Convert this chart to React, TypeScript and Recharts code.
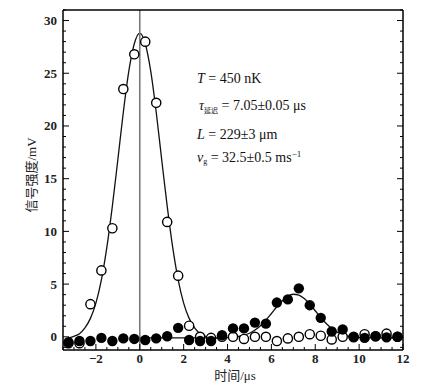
import React from "react";
import { ComposedChart, Line, Scatter, XAxis, YAxis, ReferenceLine } from "recharts";

// measured points, one every 0.5 µs
const sampleTimes = [
  -3.25, -2.75, -2.25, -1.75, -1.25, -0.75, -0.25, 0.25, 0.75, 1.25, 1.75, 2.25, 2.75, 3.25, 3.75,
  4.25, 4.75, 5.25, 5.75, 6.25, 6.75, 7.25, 7.75, 8.25, 8.75, 9.25, 9.75, 10.25, 10.75, 11.25, 11.75,
];
const openSignal = [
  -0.6, -0.6, 3.1, 6.3, 10.3, 23.5, 26.8, 28.0, 22.2, 10.9, 5.8, 1.05, 0.0, -0.1, 0.0,
  0.0, -0.2, 0.0, 0.0, -0.4, -0.15, 0.0, 0.25, 0.1, -0.25, 0.0, 0.0, 0.25, 0.05, 0.3, 0.0,
];
const filledSignal = [
  -0.5, -0.4, -0.4, -0.1, -0.4, -0.15, -0.2, -0.3, -0.15, 0.05, 0.85, -0.3, -0.4, -0.4, 0.15,
  0.8, 0.8, 1.35, 1.25, 3.25, 3.55, 4.6, 3.0, 1.8, 0.5, 0.7, -0.05, -0.1, 0.05, -0.05, 0.0,
];

// fitted curves
const openFitTimes = [
  -3.25, -3, -2.75, -2.5, -2.25, -2, -1.75, -1.5, -1.25, -1, -0.75, -0.5, -0.25, 0,
  0.25, 0.5, 0.75, 1, 1.25, 1.5, 1.75, 2, 2.25, 2.5, 2.75, 3, 3.25, 3.5,
];
const openFitValues = [
  -0.1, 0.05, 0.3, 0.85, 1.75, 3.2, 5.4, 8.5, 12.4, 16.8, 21.3, 25.2, 27.8, 28.8,
  27.8, 25.2, 21.3, 16.8, 12.4, 8.5, 5.4, 3.2, 1.75, 0.85, 0.3, 0.05, -0.1, -0.15,
];
const filledFitTimes = [
  0, 1, 2, 3, 3.5, 3.75, 4, 4.25, 4.5, 4.75, 5, 5.25, 5.5, 5.75, 6, 6.25, 6.5, 6.75, 7,
  7.25, 7.5, 7.75, 8, 8.25, 8.5, 8.75, 9, 9.25, 9.5, 9.75, 10, 10.25, 10.5, 11, 12,
];
const filledFitValues = [
  -0.1, -0.1, -0.1, -0.1, -0.1, -0.09, -0.07, -0.04, 0.03, 0.15, 0.34, 0.64, 1.06, 1.59, 2.21, 2.85, 3.43, 3.86, 4.04,
  3.96, 3.63, 3.1, 2.47, 1.83, 1.26, 0.79, 0.45, 0.22, 0.07, -0.01, -0.06, -0.08, -0.1, -0.1, -0.1,
];

const xTickLabels = [-2, 0, 2, 4, 6, 8, 10, 12];
const yTickLabels = [0, 5, 10, 15, 20, 25, 30];

const toPoints = (xs: number[], ys: number[]) => xs.map((x, i) => ({ x, y: ys[i] }));
const openPoints = toPoints(sampleTimes, openSignal);
const filledPoints = toPoints(sampleTimes, filledSignal);
const openFit = toPoints(openFitTimes, openFitValues);
const filledFit = toPoints(filledFitTimes, filledFitValues);

// minor ticks every 0.5 µs and every 1 mV
const xTicks: number[] = [];
for (let v = -3.5; v <= 12; v += 0.5) xTicks.push(v);
const yTicks: number[] = [];
for (let v = -1; v <= 31; v += 1) yTicks.push(v);

const serif = "'Liberation Serif', 'Noto Sans CJK SC', serif";
const fmt = (v: number) => (v < 0 ? "\u2212" + Math.abs(v) : String(v));

const BottomTick = ({ x, y, payload }: any) => {
  const major = xTickLabels.includes(payload.value);
  return (
    <g>
      <line x1={x} y1={y} x2={x} y2={y - (major ? 6 : 3)} stroke="#000" />
      {major && (
        <text x={x} y={y + 13} textAnchor="middle" fontSize={13} fontWeight="bold" fontFamily={serif} fill="#222">
          {fmt(payload.value)}
        </text>
      )}
    </g>
  );
};

const TopTick = ({ x, y, payload }: any) => {
  const major = xTickLabels.includes(payload.value);
  return <line x1={x} y1={y} x2={x} y2={y + (major ? 6 : 3)} stroke="#000" />;
};

const LeftTick = ({ x, y, payload }: any) => {
  const major = yTickLabels.includes(payload.value);
  return (
    <g>
      <line x1={x} y1={y} x2={x + (major ? 6 : 3)} y2={y} stroke="#000" />
      {major && (
        <text x={x - 6} y={y + 4.5} textAnchor="end" fontSize={13} fontWeight="bold" fontFamily={serif} fill="#222">
          {fmt(payload.value)}
        </text>
      )}
    </g>
  );
};

const RightTick = ({ x, y, payload }: any) => {
  const major = yTickLabels.includes(payload.value);
  return <line x1={x} y1={y} x2={x - (major ? 6 : 3)} y2={y} stroke="#000" />;
};

const OpenDot = ({ cx, cy }: any) => (
  <circle cx={cx} cy={cy} r={4.6} fill="#fff" stroke="#000" strokeWidth={1.4} />
);
const FilledDot = ({ cx, cy }: any) => <circle cx={cx} cy={cy} r={5.2} fill="#000" />;

const frame = { stroke: "#000", strokeWidth: 1.5 };

export default function App() {
  return (
    <div style={{ position: "absolute", left: 0, top: 0, width: 424, height: 391, background: "#fff" }}>
      <ComposedChart width={424} height={391} margin={{ top: 0, right: 0, bottom: 0, left: 0 }}>
        <XAxis
          dataKey="x"
          type="number"
          domain={[-3.5, 12]}
          allowDataOverflow
          ticks={xTicks}
          interval={0}
          height={41}
          tickSize={0}
          tickMargin={0}
          tickLine={false}
          axisLine={frame}
          tick={BottomTick}
        />
        <XAxis
          xAxisId="top"
          orientation="top"
          type="number"
          domain={[-3.5, 12]}
          allowDataOverflow
          ticks={xTicks}
          interval={0}
          height={10}
          tickSize={0}
          tickMargin={0}
          tickLine={false}
          axisLine={frame}
          tick={TopTick}
        />
        <YAxis
          dataKey="y"
          type="number"
          domain={[-1.25, 31]}
          allowDataOverflow
          ticks={yTicks}
          interval={0}
          width={63}
          tickSize={0}
          tickMargin={0}
          tickLine={false}
          axisLine={frame}
          tick={LeftTick}
        />
        <YAxis
          yAxisId="right"
          orientation="right"
          type="number"
          domain={[-1.25, 31]}
          allowDataOverflow
          ticks={yTicks}
          interval={0}
          width={21}
          tickSize={0}
          tickMargin={0}
          tickLine={false}
          axisLine={frame}
          tick={RightTick}
        />
        <Line data={openFit} dataKey="y" type="monotone" stroke="#111" strokeWidth={1.3} dot={false} isAnimationActive={false} />
        <Line data={filledFit} dataKey="y" type="monotone" stroke="#111" strokeWidth={1.3} dot={false} isAnimationActive={false} />
        <ReferenceLine x={0} stroke="#7a7a7a" strokeWidth={1.6} />
        <Scatter data={openPoints} dataKey="y" shape={OpenDot} isAnimationActive={false} />
        <Scatter data={filledPoints} dataKey="y" shape={FilledDot} isAnimationActive={false} />
      </ComposedChart>
      <svg width={424} height={391} style={{ position: "absolute", left: 0, top: 0, pointerEvents: "none" }}>
        <g fontFamily={serif} fontSize={14} fill="#111">
          <text x={197} y={83}>
            <tspan fontStyle="italic">T</tspan> = 450 nK
          </text>
          <text x={199} y={110}>
            <tspan fontStyle="italic">τ</tspan>
            <tspan fontSize={7} dy={3}>延迟</tspan>
            <tspan dy={-3}> = 7.05±0.05 μs</tspan>
          </text>
          <text x={197} y={139}>
            <tspan fontStyle="italic">L</tspan> = 229±3 μm
          </text>
          <text x={197} y={162}>
            <tspan fontStyle="italic">v</tspan>
            <tspan fontSize={8} dy={2}>g</tspan>
            <tspan dy={-2}> = 32.5±0.5 ms</tspan>
            <tspan fontSize={9} dy={-5}>−1</tspan>
          </text>
        </g>
        <text x={235} y={380} textAnchor="middle" fontFamily={serif} fontSize={13} fill="#222">
          时间/μs
        </text>
        <text
          x={31}
          y={175}
          textAnchor="middle"
          dominantBaseline="central"
          transform="rotate(-90 31 175)"
          fontFamily={serif}
          fontSize={13}
          fill="#222"
        >
          信号强度/mV
        </text>
      </svg>
    </div>
  );
}
